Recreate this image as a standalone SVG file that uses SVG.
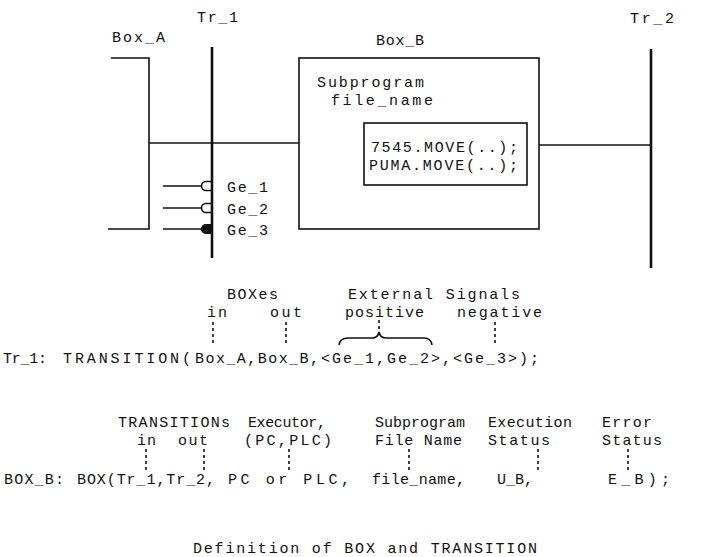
<svg xmlns="http://www.w3.org/2000/svg" width="709" height="557" viewBox="0 0 709 557">
<style>
  text { font-family: "Liberation Mono", "DejaVu Sans Mono", monospace; font-size: 15px; fill: #111; }
  .ln { fill: none; stroke: #111; stroke-width: 1.6; }
  .tr { fill: none; stroke: #111; stroke-width: 2.6; }
  .dash { fill: none; stroke: #111; stroke-width: 1.6; stroke-dasharray: 3 3; }
</style>
<rect width="709" height="557" fill="#fff"/>

<g id="connectors">
  <line class="ln" x1="149" y1="143" x2="299" y2="143"/>
  <line class="ln" x1="539" y1="145" x2="651" y2="145"/>
</g>

<g id="Box_A">
  <path class="ln" d="M111,58 H149 V229 H108"/>
  <text x="112" y="42" textLength="53" lengthAdjust="spacing">Box_A</text>
</g>

<g id="Tr_1">
  <line class="tr" x1="212" y1="47" x2="212" y2="258"/>
  <text x="197" y="22" textLength="41" lengthAdjust="spacing">Tr_1</text>
</g>

<g id="Box_B">
  <rect class="ln" x="299" y="58" width="240" height="171"/>
  <text x="376" y="45" textLength="48" lengthAdjust="spacing">Box_B</text>
  <text x="317" y="87" textLength="107" lengthAdjust="spacing">Subprogram</text>
  <text x="331" y="105" textLength="102" lengthAdjust="spacing">file_name</text>
  <rect class="ln" x="364" y="123" width="163" height="62"/>
  <text x="371" y="152" textLength="147" lengthAdjust="spacing">7545.MOVE(..);</text>
  <text x="369" y="170" textLength="149" lengthAdjust="spacing">PUMA.MOVE(..);</text>
</g>

<g id="Tr_2">
  <line class="tr" x1="651" y1="49" x2="651" y2="268"/>
  <text x="630" y="23" textLength="44" lengthAdjust="spacing">Tr_2</text>
</g>

<g id="Ge_1">
  <line class="ln" x1="163" y1="186" x2="202" y2="186"/>
  <path class="ln" d="M211,181.5 H206 A4.5,4.5 0 0 0 206,190.5 H211"/>
  <text x="227" y="192" textLength="41" lengthAdjust="spacing">Ge_1</text>
</g>
<g id="Ge_2">
  <line class="ln" x1="163" y1="208" x2="202" y2="208"/>
  <path class="ln" d="M211,203.5 H206 A4.5,4.5 0 0 0 206,212.5 H211"/>
  <text x="227" y="214" textLength="41" lengthAdjust="spacing">Ge_2</text>
</g>
<g id="Ge_3">
  <line class="ln" x1="163" y1="229" x2="202" y2="229"/>
  <path d="M211,224.5 H206 A4.5,4.5 0 0 0 206,233.5 H211 Z" fill="#111" stroke="#111" stroke-width="1.2"/>
  <text x="227" y="235" textLength="41" lengthAdjust="spacing">Ge_3</text>
</g>

<g id="transition_def">
  <text x="227" y="299" textLength="51" lengthAdjust="spacing">BOXes</text>
  <text x="348" y="299" textLength="172" lengthAdjust="spacing">External Signals</text>
  <text x="207" y="317" textLength="20" lengthAdjust="spacing">in</text>
  <text x="270" y="317" textLength="32" lengthAdjust="spacing">out</text>
  <text x="345" y="317" textLength="79" lengthAdjust="spacing">positive</text>
  <text x="457" y="317" textLength="85" lengthAdjust="spacing">negative</text>
  <line class="dash" x1="213" y1="322" x2="213" y2="346"/>
  <line class="dash" x1="286" y1="322" x2="286" y2="346"/>
  <line class="dash" x1="379" y1="320" x2="379" y2="331"/>
  <line class="dash" x1="495" y1="322" x2="495" y2="345"/>
  <path class="ln" d="M339,345 Q340,338 348,338 L372,338 Q378,338 379,332 Q380,338 386,338 L424,338 Q431,338 432,345"/>
  <text x="3" y="363" textLength="44" lengthAdjust="spacing">Tr_1:</text>
  <text x="63" y="363" textLength="128" lengthAdjust="spacing">TRANSITION(</text>
  <text x="195" y="363" textLength="124" lengthAdjust="spacing">Box_A,Box_B,</text>
  <text x="321" y="363" textLength="218" lengthAdjust="spacing">&lt;Ge_1,Ge_2&gt;,&lt;Ge_3&gt;);</text>
</g>

<g id="box_def">
  <text x="118" y="427" textLength="112" lengthAdjust="spacing">TRANSITIONs</text>
  <text x="248" y="427" textLength="78" lengthAdjust="spacing">Executor,</text>
  <text x="375" y="427" textLength="90" lengthAdjust="spacing">Subprogram</text>
  <text x="488" y="427" textLength="84" lengthAdjust="spacing">Execution</text>
  <text x="602" y="427" textLength="50" lengthAdjust="spacing">Error</text>
  <text x="137" y="445" textLength="19" lengthAdjust="spacing">in</text>
  <text x="178" y="445" textLength="30" lengthAdjust="spacing">out</text>
  <text x="244" y="445" textLength="88" lengthAdjust="spacing">(PC,PLC)</text>
  <text x="375" y="445" textLength="87" lengthAdjust="spacing">File Name</text>
  <text x="488" y="445" textLength="62" lengthAdjust="spacing">Status</text>
  <text x="602" y="445" textLength="60" lengthAdjust="spacing">Status</text>
  <line class="dash" x1="146" y1="449" x2="146" y2="472"/>
  <line class="dash" x1="204" y1="449" x2="204" y2="472"/>
  <line class="dash" x1="289" y1="449" x2="289" y2="470"/>
  <line class="dash" x1="409" y1="449" x2="409" y2="472"/>
  <line class="dash" x1="538" y1="449" x2="538" y2="472"/>
  <line class="dash" x1="628" y1="449" x2="628" y2="472"/>
  <text x="4" y="484" textLength="60" lengthAdjust="spacing">BOX_B:</text>
  <text x="77" y="484" textLength="138" lengthAdjust="spacing">BOX(Tr_1,Tr_2,</text>
  <text x="228" y="484" textLength="122" lengthAdjust="spacing">PC or PLC,</text>
  <text x="372" y="484" textLength="93" lengthAdjust="spacing">file_name,</text>
  <text x="497" y="484" textLength="36" lengthAdjust="spacing">U_B,</text>
  <text x="608" y="484" textLength="62" lengthAdjust="spacing">E_B);</text>
</g>

<g id="caption">
  <text x="193" y="553" textLength="344" lengthAdjust="spacing">Definition of BOX and TRANSITION</text>
</g>
</svg>
